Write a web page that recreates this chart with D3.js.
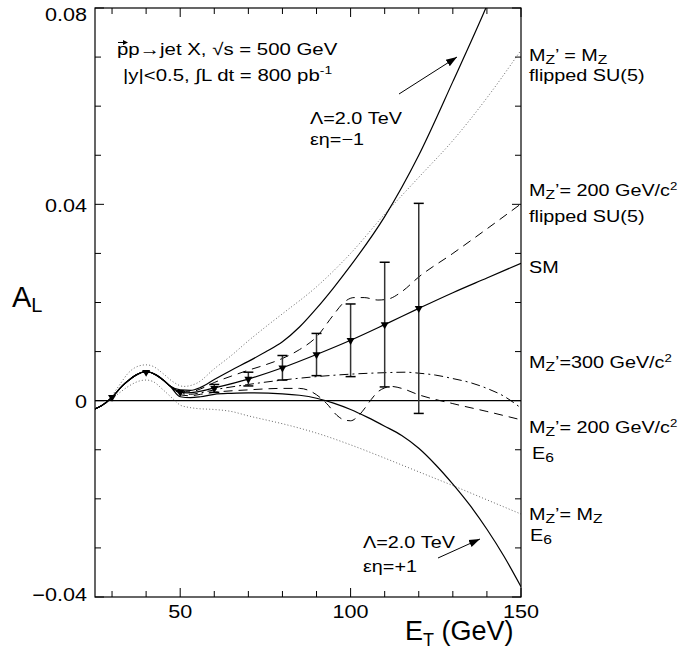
<!DOCTYPE html>
<html><head><meta charset="utf-8">
<script src="https://cdn.jsdelivr.net/npm/d3@7"></script>
<style>
body{margin:0;background:#fff;}
svg{display:block;font-family:"Liberation Sans",Arial,Helvetica,sans-serif;}
</style></head>
<body><svg id="c" width="684" height="655"></svg>
<script>
// ---------- data ----------
const xDomain = [25, 150];
const yDomain = [-0.04, 0.08];
const xTickLabels = [50, 100, 150];
const yTickLabels = [-0.04, 0, 0.04, 0.08];

// shared low-E part of all non-dotted curves
const commonE = [25, 27, 30, 33, 35, 37, 40, 43, 45, 47];
const commonA = [-0.0017, -0.0010, 0.0007, 0.0030, 0.0042, 0.0052, 0.0059, 0.0052, 0.0042, 0.0030];

const smE = [50, 52, 55, 60, 70, 80, 90, 100, 110, 120, 130, 140, 150];
const smA = [0.0018, 0.0016, 0.0018, 0.0026, 0.0044, 0.0067, 0.0094, 0.0123, 0.0155, 0.0188, 0.0220, 0.0250, 0.0280];

const lamMinusE = [50, 53, 56, 60, 65, 70, 75, 80, 85, 90, 95, 100, 110, 120, 130, 140, 150];
const lamMinusA = [0.0022, 0.0021, 0.0027, 0.0043, 0.0062, 0.0080, 0.0099, 0.0120, 0.0150, 0.0188, 0.0230, 0.0275, 0.0375, 0.0500, 0.0650, 0.0805, 0.0975];

const lamPlusE = [50, 53, 56, 60, 65, 70, 80, 85, 90, 95, 100, 105, 110, 115, 120, 125, 130, 135, 140, 145, 150];
const lamPlusA = [0.0008, 0.0006, 0.0008, 0.0013, 0.0015, 0.0016, 0.0014, 0.0011, 0.0005, -0.0005, -0.0018, -0.0034, -0.0052, -0.0071, -0.0097, -0.0131, -0.0170, -0.0213, -0.0262, -0.0317, -0.0379];

const flip200E = [50, 53, 56, 60, 65, 70, 75, 80, 85, 90, 95, 98, 101, 104, 108, 111, 115, 120, 130, 140, 150];
const flip200A = [0.0020, 0.0018, 0.0024, 0.0037, 0.0050, 0.0062, 0.0073, 0.0086, 0.0104, 0.0130, 0.0175, 0.0200, 0.0210, 0.0210, 0.0205, 0.0207, 0.0222, 0.0252, 0.0300, 0.0350, 0.0401];

const m300E = [50, 53, 56, 60, 70, 80, 90, 100, 110, 116, 120, 125, 130, 135, 140, 145, 150];
const m300A = [0.0015, 0.0013, 0.0016, 0.0022, 0.0033, 0.0042, 0.0049, 0.0054, 0.0057, 0.0058, 0.0056, 0.0052, 0.0045, 0.0037, 0.0025, 0.0009, -0.0015];

const e6200E = [50, 53, 56, 60, 70, 80, 85, 88, 90, 93, 96, 98, 100, 102, 104, 106, 108, 110, 112, 115, 120, 130, 140, 150];
const e6200A = [0.0012, 0.0010, 0.0013, 0.0017, 0.0022, 0.0025, 0.0025, 0.0020, 0.0012, -0.0006, -0.0030, -0.0039, -0.0041, -0.0033, -0.0017, 0.0002, 0.0018, 0.0026, 0.0029, 0.0025, 0.0012, -0.0006, -0.0022, -0.0039];

const dotFlipE = [30, 32, 35, 38, 40, 42, 45, 48, 51, 55, 60, 65, 70, 75, 80, 90, 100, 110, 120, 130, 140, 150];
const dotFlipA = [0.0010, 0.0030, 0.0058, 0.0071, 0.0073, 0.0070, 0.0055, 0.0038, 0.0029, 0.0036, 0.0065, 0.0092, 0.0122, 0.0150, 0.0177, 0.0232, 0.0300, 0.0380, 0.0455, 0.0530, 0.0617, 0.0714];

const dotE6E = [30, 32, 35, 38, 40, 42, 45, 48, 50, 52, 55, 60, 65, 70, 75, 80, 85, 90, 100, 110, 120, 130, 140, 150];
const dotE6A = [0.0004, 0.0015, 0.0030, 0.0040, 0.0042, 0.0039, 0.0022, 0.0003, -0.0009, -0.0013, -0.0016, -0.0018, -0.0022, -0.0031, -0.0039, -0.0047, -0.0056, -0.0066, -0.0090, -0.0117, -0.0145, -0.0173, -0.0202, -0.0231];

// SM pseudo-data with error bars
const ptE = [30, 40, 50, 60, 70, 80, 90, 100, 110, 120];
const ptA = [0.0007, 0.0058, 0.0017, 0.0025, 0.0044, 0.0067, 0.0094, 0.0123, 0.0155, 0.0188];
const ptErr = [0.0002, 0.0002, 0.0003, 0.0008, 0.0014, 0.0025, 0.0043, 0.0074, 0.0127, 0.0214];

// ---------- layout ----------
const L = 95, R = 521, T = 8, B = 597;
const SX = 1.2; // horizontal stretch of the reference lettering
const svg = d3.select("#c");
const x = d3.scaleLinear().domain(xDomain).range([L, R]);
const y = d3.scaleLinear().domain(yDomain).range([B, T]);

const defs = svg.append("defs");
defs.append("clipPath").attr("id", "plot")
  .append("rect").attr("x", L).attr("y", T).attr("width", R - L).attr("height", B - T);
defs.append("marker").attr("id", "ah").attr("viewBox", "0 0 10 10")
  .attr("refX", 10).attr("refY", 5).attr("markerWidth", 11).attr("markerHeight", 11)
  .attr("markerUnits", "userSpaceOnUse").attr("orient", "auto")
  .append("path").attr("d", "M0,1.5 L10,5 L0,8.5 Z").attr("fill", "#000");

const zip = (E, A) => E.map((e, i) => [e, A[i]]);
const withCommon = (E, A) => zip(commonE, commonA).concat(zip(E, A));

const line = d3.line().x(d => x(d[0])).y(d => y(d[1])).curve(d3.curveMonotoneX);
const g = svg.append("g").attr("clip-path", "url(#plot)");

// zero line
g.append("line").attr("x1", L).attr("x2", R).attr("y1", y(0)).attr("y2", y(0))
  .attr("stroke", "#000").attr("stroke-width", 1.2);

const series = [
  {d: zip(dotFlipE, dotFlipA), dash: "1,2.2", w: 1, c: "#666"},
  {d: zip(dotE6E, dotE6A), dash: "1,2.2", w: 1, c: "#666"},
  {d: withCommon(m300E, m300A), dash: "9,4,2,4", w: 1, c: "#000"},
  {d: withCommon(e6200E, e6200A), dash: "9,6", w: 1, c: "#000"},
  {d: withCommon(flip200E, flip200A), dash: "9,6", w: 1, c: "#000"},
  {d: withCommon(lamPlusE, lamPlusA), dash: null, w: 1.2, c: "#000"},
  {d: withCommon(lamMinusE, lamMinusA), dash: null, w: 1.2, c: "#000"},
  {d: withCommon(smE, smA), dash: null, w: 1.2, c: "#000"}
];
series.forEach(s => {
  g.append("path").attr("d", line(s.d)).attr("fill", "none")
    .attr("stroke", s.c).attr("stroke-width", s.w)
    .attr("stroke-dasharray", s.dash);
});

// error bars
const eb = g.append("g");
ptE.forEach((e, i) => {
  const xx = x(e), y1 = y(ptA[i] + ptErr[i]), y2 = y(ptA[i] - ptErr[i]);
  if (ptErr[i] > 0.0005) {
    eb.append("line").attr("x1", xx).attr("x2", xx).attr("y1", y1).attr("y2", y2)
      .attr("stroke", "#333").attr("stroke-width", 1.5);
    [y1, y2].forEach(yy => eb.append("line").attr("x1", xx - 5).attr("x2", xx + 5)
      .attr("y1", yy).attr("y2", yy).attr("stroke", "#000").attr("stroke-width", 1.5));
  }
  eb.append("path").attr("d", d3.symbol().type(d3.symbolTriangle).size(28)())
    .attr("transform", `translate(${xx},${y(ptA[i])}) rotate(180)`).attr("fill", "#000");
});

// frame
svg.append("rect").attr("x", L).attr("y", T).attr("width", R - L).attr("height", B - T)
  .attr("fill", "none").attr("stroke", "#000").attr("stroke-width", 1.2);

// ticks
const tk = svg.append("g").attr("stroke", "#000").attr("stroke-width", 1);
d3.range(30, 151, 10).forEach(v => {
  const major = xTickLabels.includes(v);
  const len = major ? 9 : 6;
  tk.append("line").attr("x1", x(v)).attr("x2", x(v)).attr("y1", B).attr("y2", B - len);
  tk.append("line").attr("x1", x(v)).attr("x2", x(v)).attr("y1", T).attr("y2", T + len);
});
d3.range(-4, 9, 1).forEach(k => {
  const v = k / 100;
  const major = k % 4 === 0;
  const len = major ? 9 : 6;
  tk.append("line").attr("x1", L).attr("x2", L + len).attr("y1", y(v)).attr("y2", y(v));
  tk.append("line").attr("x1", R).attr("x2", R - len).attr("y1", y(v)).attr("y2", y(v));
});

// stretched text helper
function stext(xp, yp, size, anchor) {
  return svg.append("text").attr("transform", `translate(${xp},${yp}) scale(${SX},1)`)
    .attr("font-size", size).attr("text-anchor", anchor || "start");
}
function rich(xp, yp, parts, size) {
  const t = stext(xp, yp, size || 16.5);
  let off = 0;
  parts.forEach(p => {
    const sh = (p.s || 0) - off;
    const ts = t.append("tspan").text(p.t).attr("dy", sh);
    if (p.f) ts.attr("font-size", p.f);
    off = p.s || 0;
  });
  return t;
}

const fmtY = v => v === 0 ? "0" : (v < 0 ? "\u2212" + Math.abs(v).toFixed(2) : v.toFixed(2));
yTickLabels.forEach(v => stext(87, Math.max(T + 13, Math.min(B + 4, y(v) + 7.5)), 18, "end").text(fmtY(v)));
xTickLabels.forEach(v => stext(x(v), 618, 18, "middle").text(v));

// axis titles
const al = svg.append("text").attr("x", 12).attr("y", 307).attr("font-size", 29);
al.append("tspan").text("A");
al.append("tspan").attr("font-size", 20).attr("dy", 5).text("L");
const et = svg.append("text").attr("x", 405).attr("y", 640).attr("font-size", 27);
et.append("tspan").text("E");
et.append("tspan").attr("font-size", 18).attr("dy", 6).text("T");
et.append("tspan").attr("dy", -6).text(" (GeV)");

// right labels
const Z = {t: "Z", s: 3, f: 13};
rich(529, 61, [{t: "M"}, Z, {t: "\u2019 = M"}, Z]);
rich(529, 81, [{t: "flipped SU(5)"}]);
rich(529, 196, [{t: "M"}, Z, {t: "\u2019= 200 GeV/c"}, {t: "2", s: -6, f: 11}]);
rich(529, 222, [{t: "flipped SU(5)"}]);
rich(529, 273, [{t: "SM"}]);
rich(529, 368, [{t: "M"}, Z, {t: "\u2019=300 GeV/c"}, {t: "2", s: -6, f: 11}]);
rich(529, 433, [{t: "M"}, Z, {t: "\u2019= 200 GeV/c"}, {t: "2", s: -6, f: 11}]);
rich(532, 459, [{t: "E"}, {t: "6", s: 3, f: 13}]);
rich(529, 520, [{t: "M"}, Z, {t: "\u2019= M"}, Z]);
rich(530, 541, [{t: "E"}, {t: "6", s: 3, f: 13}]);

// top-left process text
rich(117, 55, [{t: "pp\u2192jet X, \u221As = 500 GeV"}], 17);
svg.append("line").attr("x1", 118).attr("x2", 126).attr("y1", 42.5).attr("y2", 42.5)
  .attr("stroke", "#000").attr("stroke-width", 1);
svg.append("path").attr("d", "M123,40 L128,42.5 L123,45 Z").attr("fill", "#000");
rich(123, 81, [{t: "|y|<0.5, \u222BL dt = 800 pb"}, {t: "-1", s: -7, f: 11.5}], 17);

// lambda annotations
rich(310, 124, [{t: "\u039B=2.0 TeV"}]);
rich(310, 145, [{t: "\u03B5\u03B7=\u22121"}]);
svg.append("line").attr("x1", 399).attr("y1", 94).attr("x2", 457).attr("y2", 57)
  .attr("stroke", "#000").attr("stroke-width", 1).attr("marker-end", "url(#ah)");
rich(363, 548, [{t: "\u039B=2.0 TeV"}]);
rich(363, 572, [{t: "\u03B5\u03B7=+1"}]);
svg.append("line").attr("x1", 438).attr("y1", 558).attr("x2", 480).attr("y2", 539)
  .attr("stroke", "#000").attr("stroke-width", 1).attr("marker-end", "url(#ah)");
</script></body></html>
